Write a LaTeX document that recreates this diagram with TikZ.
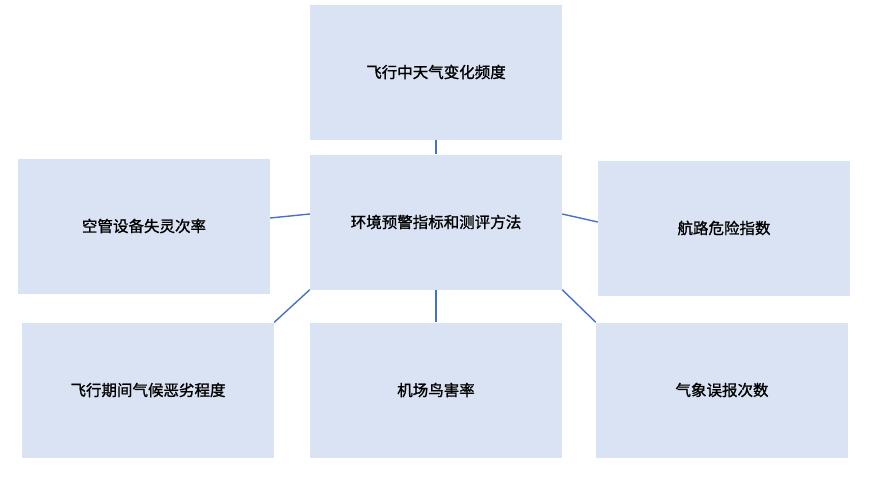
\documentclass[tikz,border=0pt]{standalone}
\usepackage{fontspec}
\newfontfamily\cjk[FakeBold=1.2]{Noto Sans CJK SC}
\begin{document}
\begin{tikzpicture}[x=1pt,y=-1pt,
  box/.style={fill=boxfill,draw=none,minimum width=252pt,minimum height=135pt,inner sep=0pt,font=\cjk\fontsize{15.5}{18}\selectfont},
  link/.style={draw=linkblue,line width=1.4pt}]
\definecolor{boxfill}{HTML}{DAE3F3}
\definecolor{linkblue}{HTML}{4472C4}
\useasboundingbox (0,0) rectangle (881,477);
\node[box] (top) at (436,72) {飞行中天气变化频度};
\node[box] (c) at (436,222) {环境预警指标和测评方法};
\node[box] (l) at (144,226) {空管设备失灵次率};
\node[box] (r) at (724,228) {航路危险指数};
\node[box] (bl) at (148,390) {飞行期间气候恶劣程度};
\node[box] (bm) at (436,390) {机场鸟害率};
\node[box] (br) at (722,390) {气象误报次数};
\draw[link] (top.south) -- (c.north);
\draw[link] ([yshift=8pt]l.east) -- ([yshift=8pt]c.west);
\draw[link] ([yshift=8pt]c.east) -- ([yshift=6pt]r.west);
\draw[link] (c.south west) -- (bl.north east);
\draw[link] (c.south) -- (bm.north);
\draw[link] (c.south east) -- (br.north west);
\end{tikzpicture}
\end{document}
